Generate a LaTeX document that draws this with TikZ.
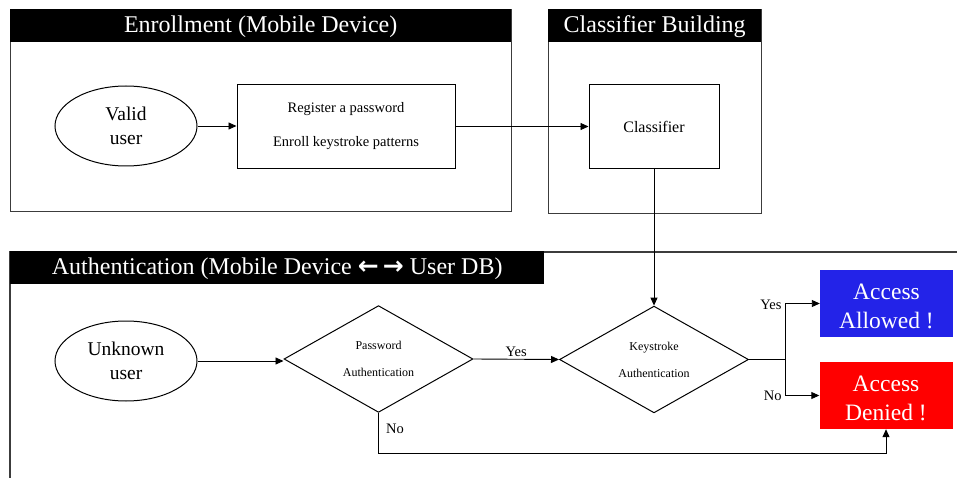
\documentclass[tikz,border=0pt]{standalone}
\usepackage{fontspec}
\setmainfont{Liberation Serif}
\newfontfamily\arrowfont{DejaVu Sans}
\usetikzlibrary{shapes.geometric,arrows.meta}

\definecolor{allowblue}{RGB}{35,35,232}
\definecolor{denyred}{RGB}{255,0,0}
\definecolor{framegray}{RGB}{60,60,60}

\tikzset{
  frame/.style={draw=framegray, line width=1.3pt, anchor=north west, inner sep=0pt},
  titlebar/.style={fill=black, text=white, anchor=north west, inner sep=0pt,
    minimum height=33pt, text height=17pt, text depth=4pt,
    font=\fontsize{24}{28}\selectfont},
  user/.style={ellipse, draw, line width=1pt, minimum width=142pt, minimum height=80pt,
    inner sep=0pt, align=center, font=\fontsize{19.5}{24}\selectfont},
  procbox/.style={draw, line width=1pt, minimum height=84pt, inner sep=0pt, align=center},
  decision/.style={diamond, draw, line width=1pt, minimum width=189pt, minimum height=106pt,
    inner sep=0pt, align=center, font=\fontsize{12}{27}\selectfont},
  outcome/.style={minimum width=133pt, minimum height=67pt, inner sep=0pt},
  outtext/.style={text=white, align=center, inner sep=0pt, yshift=-3pt,
    font=\fontsize{23.5}{29}\selectfont},
  arr/.style={line width=0.9pt, -{Triangle[length=8pt,width=7pt]}},
  lbl/.style={font=\fontsize{14.5}{16}\selectfont, inner sep=1pt}
}

\begin{document}
\begin{tikzpicture}[x=1pt, y=-1pt]
  \useasboundingbox (0,0) rectangle (957,478);

  % Enrollment panel
  \node[frame, minimum width=501pt, minimum height=202pt] (enrollF) at (10,9) {};
  \node[titlebar, minimum width=501pt] (enrollT) at (10,9) {Enrollment (Mobile Device)};

  % Classifier building panel
  \node[frame, minimum width=213pt, minimum height=204pt] (clsF) at (548,9) {};
  \node[titlebar, minimum width=213pt] (clsT) at (548,9) {Classifier Building};

  % Authentication panel (open to the right and bottom)
  \draw[draw=framegray, line width=1.3pt] (10,478) -- (10,252) -- (957,252);
  \node[titlebar, minimum width=534pt] (authT) at (10,251)
    {Authentication (Mobile Device {\arrowfont\bfseries\fontsize{25}{28}\selectfont ←\,→} User DB)};

  % Enrollment flow
  \node[user] (valid) at (126,126) {Valid\\user};
  \node[procbox, minimum width=218pt, font=\fontsize{14.5}{34}\selectfont] (reg) at (346,126.5)
    {Register a password\\Enroll keystroke patterns};
  \node[procbox, minimum width=130pt, font=\fontsize{16}{18}\selectfont] (cls) at (654,126.5) {Classifier};

  % Authentication flow
  \node[user] (unk) at (126,361) {Unknown\\user};
  \node[decision] (pd) at (378.5,359) {Password\\Authentication};
  \node[decision] (kd) at (654,359.5) {Keystroke\\Authentication};
  \node[outcome, fill=allowblue] (allow) at (886.5,303.5) {};
  \node[outtext] (allowT) at (allow.center) {Access\\Allowed !};
  \node[outcome, fill=denyred] (deny) at (886,395.5) {};
  \node[outtext] (denyT) at (deny.center) {Access\\Denied !};
  \coordinate (split) at (785,359.5);

  % Connectors
  \draw[arr] (valid.east) -- (valid.east -| reg.west);
  \draw[arr] (reg.east) -- (reg.east -| cls.west);
  \draw[arr] (cls.south) -- (kd.north);
  \draw[arr] (unk.east) -- (unk.east -| pd.west);
  \draw[arr] (pd.east) -- node[lbl, above=1pt] {Yes} (kd.west);
  \draw[line width=0.9pt] (kd.east) -- (split);
  \draw[arr] (split) |- node[lbl, pos=0.5, left=2pt, yshift=-1pt] {Yes} (allow.west);
  \draw[arr] (split) |- node[lbl, pos=0.5, left=2pt] {No} (deny.west);
  \draw[arr] (pd.south) -- ++(0,41) -| (deny.south);
  \node[lbl, anchor=west] (nolbl) at (385,429) {No};
\end{tikzpicture}
\end{document}
